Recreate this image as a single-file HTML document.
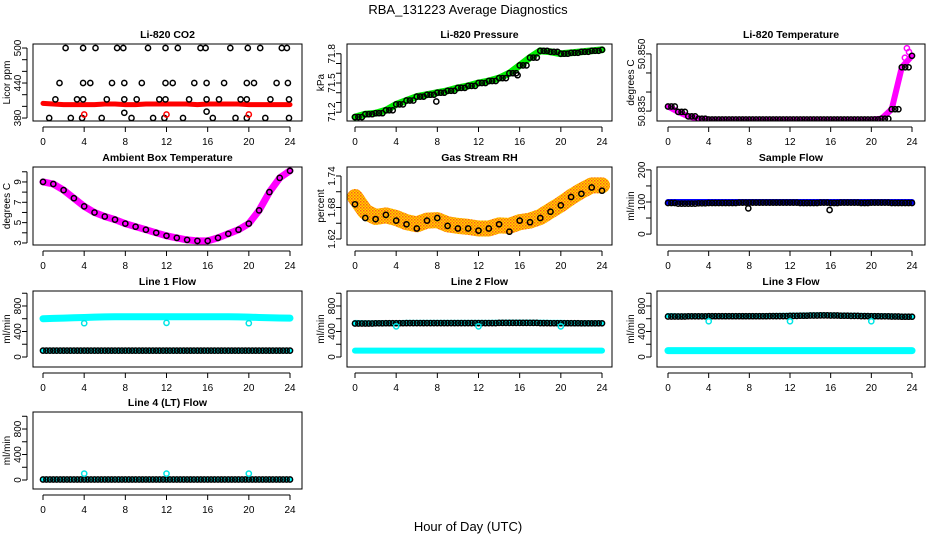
<!DOCTYPE html>
<html><head><meta charset="utf-8">
<style>
html,body{margin:0;padding:0;background:#fff;}
svg{display:block;font-family:"Liberation Sans","DejaVu Sans",sans-serif;}
</style></head>
<body>
<svg id="chart" width="936" height="540" viewBox="0 0 936 540" xmlns="http://www.w3.org/2000/svg">
<defs>
<pattern id="rhpat" width="3" height="3" patternUnits="userSpaceOnUse">
<rect width="3" height="3" fill="#ffd400"/>
<rect x="0" y="0" width="1.5" height="1.5" fill="#ff5a1a"/>
<rect x="1.5" y="1.5" width="1.5" height="1.5" fill="#ff8a00"/>
</pattern>
</defs>
<text x="468" y="14" text-anchor="middle" font-size="13">RBA_131223  Average Diagnostics</text>
<text x="468" y="531" text-anchor="middle" font-size="13">Hour of Day (UTC)</text>
</svg>
<script>
// ---- data ----
const hours = [0,1,2,3,4,5,6,7,8,9,10,11,12,13,14,15,16,17,18,19,20,21,22,23,24];
const xTickLabels = [0,4,8,12,16,20,24];

const co2Band = [405,404,403,403,403,403,404,404,403,403,404,404,404,404,404,403,404,404,404,404,403,403,403,403,403];
const co2Hrs = [2.2,3.9,5.1,7.2,7.8,10.2,11.9,13.1,15.3,15.8,18.2,19.9,21.1,23.2,23.7,
  1.6,3.9,4.6,6.7,7.9,9.6,11.9,12.6,14.7,15.9,17.6,19.8,20.5,22.7,23.8,
  1.2,3.3,3.9,6.2,7.9,9.1,11.3,11.9,14.2,15.9,17.1,19.2,19.8,22.1,23.9,
  0.6,2.7,3.8,5.7,8.6,10.7,11.8,13.6,16.5,18.7,19.8,21.6,23.9,7.9,15.9];
const co2Vals = [500,500,500,500,500,500,500,500,500,500,500,500,500,500,500,
  440,440,440,440,440,440,440,440,440,440,440,440,440,440,440,
  412,412,412,412,412,412,412,412,412,412,412,412,412,412,412,
  380,380,380,380,380,380,380,380,380,380,380,380,380,389,391];
const co2RedHrs = [4,12,20];
const co2RedVals = [386,386,386];

const presVals = [71.15,71.18,71.19,71.22,71.28,71.32,71.36,71.38,71.40,71.42,71.45,71.47,71.50,71.52,71.55,71.60,71.68,71.76,71.83,71.82,71.80,71.81,71.82,71.83,71.84];
const presOutHrs = [7.9,15.8];
const presOutVals = [71.31,71.58];

const tempVals = [50.8362,50.8348,50.8336,50.8330,50.8328,50.8328,50.8328,50.8328,50.8328,50.8328,50.8328,50.8328,50.8328,50.8328,50.8328,50.8328,50.8328,50.8328,50.8328,50.8328,50.8328,50.8330,50.8355,50.8465,50.8495];
const tempEndHrs = [23.3,23.5,23.7];
const tempEndVals = [50.8490,50.8515,50.8505];

const ambVals = [9.0,8.8,8.2,7.4,6.6,6.0,5.6,5.3,4.9,4.6,4.3,4.0,3.7,3.5,3.3,3.2,3.2,3.5,3.9,4.3,4.9,6.2,8.0,9.4,10.1];

const rhBand = [1.700,1.672,1.662,1.665,1.660,1.652,1.648,1.655,1.656,1.648,1.645,1.643,1.640,1.640,1.646,1.645,1.652,1.655,1.662,1.674,1.686,1.700,1.712,1.722,1.722];
const rhVals = [1.686,1.660,1.658,1.666,1.655,1.648,1.640,1.655,1.660,1.645,1.640,1.640,1.636,1.640,1.648,1.634,1.655,1.652,1.660,1.672,1.684,1.700,1.706,1.718,1.712];

const sampleBand = [100,100,100,100,100,100,100,100,100,100,100,100,100,100,100,100,100,100,100,100,100,100,100,100,100];
const sampleVals = [97,95,95,96,97,97,97,98,98,98,98,98,98,97,97,98,97,98,98,97,98,98,97,97,97];
const sampleOutHrs = [7.9,15.9];
const sampleOutVals = [80,75];

const line1Cyan = [600,605,610,615,620,625,628,630,632,632,632,632,632,632,632,632,630,630,630,628,625,620,615,612,610];
const line1Low = [100,100,100,100,100,100,100,100,100,100,100,100,100,100,100,100,100,100,100,100,100,100,100,100,100];
const line1Black = [100,100,100,100,100,100,100,100,100,100,100,100,100,100,100,100,100,100,100,100,100,100,100,100,100];
const line1OutVals = [530,535,530];

const line2Cyan = [535,530,530,532,532,535,535,535,535,535,535,535,535,535,538,540,540,540,538,535,535,532,530,530,530];
const line2Black = [525,525,528,530,530,532,532,532,532,532,532,532,532,532,535,535,535,535,532,530,530,530,528,528,528];
const line2Low = [100,100,100,100,100,100,100,100,100,100,100,100,100,100,100,100,100,100,100,100,100,100,100,100,100];
const line2OutVals = [480,480,480];

const line3Cyan = [650,645,645,645,645,645,645,648,648,648,650,652,655,658,660,662,660,658,655,652,650,648,645,642,640];
const line3Black = [635,635,638,638,640,640,640,640,640,640,642,642,645,648,650,652,650,648,645,642,640,638,635,632,632];
const line3Low = [100,100,100,100,100,100,100,100,100,100,100,100,100,100,100,100,100,100,100,100,100,100,100,100,100];
const line3OutVals = [560,560,560];

const line4Cyan = [0,0,0,0,0,0,0,0,0,0,0,0,0,0,0,0,0,0,0,0,0,0,0,0,0];
const line4Black = [8,8,8,8,8,8,8,8,8,8,8,8,8,8,8,8,8,8,8,8,8,8,8,8,8];
const line4OutVals = [100,100,100];
const spikeHrs = [4,12,20];

// ---- layout ----
const NS = 'http://www.w3.org/2000/svg';
const svg = document.getElementById('chart');
const cols = [{l:33,r:302,x0:43,x24:290},{l:347,r:612,x0:355,x24:602},{l:657,r:925,x0:668,x24:912}];
const rows = [{t:44,b:121},{t:167,b:245},{t:291,b:367},{t:412,b:489}];

function mk(tag, attrs, parent){
  const e = document.createElementNS(NS, tag);
  for (const k in attrs) e.setAttribute(k, attrs[k]);
  (parent||svg).appendChild(e);
  return e;
}

function panel(p){
  const c = cols[p.col], r = rows[p.row];
  const g = mk('g', {});
  
  
  const xs = h => c.x0 + (c.x24 - c.x0) * h / 24;
  const ys = v => r.b - (v - p.ymin) / (p.ymax - p.ymin) * (r.b - r.t);
  const cid = 'clip' + p.col + p.row;
  const cp = mk('clipPath', {id: cid}, g);
  mk('rect', {x:c.l, y:r.t, width:c.r-c.l, height:r.b-r.t}, cp);
  const data = mk('g', {'clip-path':'url(#'+cid+')'}, g);
  const band = (hs, vs, color, w, nm) => {
    const pts = hs.map((h,i)=>xs(h).toFixed(1)+','+ys(vs[i]).toFixed(1)).join(' ');
    const pl = mk('polyline', {points:pts, fill:'none', stroke:color, 'stroke-width':w, 'stroke-linejoin':'round', 'stroke-linecap':'round'}, data);
    
    
  };
  const pts = (hs, vs, color, nm, dense) => {
    hs.forEach((h,i)=>{
      const subs = dense ? [0,1/3,2/3] : [0];
      subs.forEach(s=>{
        if (h + s > 24) return;
        const ci = mk('circle', {cx:xs(h+s).toFixed(1), cy:ys(vs[i]).toFixed(1), r:2.6, fill:'none', stroke:color, 'stroke-width':1.5}, data);
        
        
      });
    });
  };
  p.draw(band, pts);
  const bx = mk('rect', {x:c.l, y:r.t, width:c.r-c.l, height:r.b-r.t, fill:'none', stroke:'#000', 'stroke-width':1}, g);
  
  
  const tt = mk('text', {x:(c.l+c.r)/2, y:r.t-6, 'text-anchor':'middle', 'font-size':10.5, 'font-weight':'bold'}, g);
  tt.textContent = p.title;
  
  
  const ay = r.b + 6;
  mk('line', {x1:c.x0, x2:c.x24, y1:ay, y2:ay, stroke:'#000'}, g);
  xTickLabels.forEach(v=>{
    mk('line', {x1:xs(v), x2:xs(v), y1:ay, y2:ay+5, stroke:'#000'}, g);
    const t = mk('text', {x:xs(v), y:ay+18, 'text-anchor':'middle', 'font-size':10}, g);
    t.textContent = v;
    
    
  });
  const ax = c.l - 6;
  mk('line', {x1:ax, x2:ax, y1:ys(p.yticks[0]), y2:ys(p.yticks[p.yticks.length-1]), stroke:'#000'}, g);
  p.yticks.forEach(v=>mk('line', {x1:ax-5, x2:ax, y1:ys(v), y2:ys(v), stroke:'#000'}, g));
  p.ylabels.forEach(v=>{
    const t = mk('text', {x:0, y:0, 'text-anchor':'middle', 'font-size':10, transform:'translate('+(c.l-12)+','+ys(v)+') rotate(-90)'}, g);
    t.textContent = p.fmt ? p.fmt(v) : v;
    
    
  });
  const yl = mk('text', {x:0, y:0, 'text-anchor':'middle', 'font-size':10, transform:'translate('+(c.l-23)+','+((r.t+r.b)/2)+') rotate(-90)'}, g);
  yl.textContent = p.ylabel;
  
  
}

const flowTicks = [0,200,400,600,800,1000];
const flowLabels = [0,400,800];

panel({name:'co2-panel', col:0,row:0,title:'Li-820 CO2',ylabel:'Licor ppm',ymin:374.9,ymax:506.9,
  yticks:[380,400,420,440,460,480,500], ylabels:[380,440,500],
  draw:(band,pts)=>{ band(hours,co2Band,'#ff0000',5,'co2-raw-band'); pts(co2Hrs,co2Vals,'#000','co2-average-point',false); pts(co2RedHrs,co2RedVals,'#ff0000','co2-red-point',false); }});
panel({name:'pressure-panel', col:1,row:0,title:'Li-820 Pressure',ylabel:'kPa',ymin:71.11,ymax:71.90,
  yticks:[71.2,71.3,71.4,71.5,71.6,71.7,71.8], ylabels:[71.2,71.5,71.8], fmt:v=>v.toFixed(1),
  draw:(band,pts)=>{ band(hours,presVals,'#00ee00',7,'pressure-raw-band'); pts(hours,presVals,'#000','pressure-point',true); pts(presOutHrs,presOutVals,'#000','pressure-outlier',false); }});
panel({name:'temperature-panel', col:2,row:0,title:'Li-820 Temperature',ylabel:'degrees C',ymin:50.8324,ymax:50.8526,
  yticks:[50.835,50.840,50.845,50.850], ylabels:[50.835,50.850], fmt:v=>v.toFixed(3),
  draw:(band,pts)=>{ band(hours,tempVals,'#ff00ff',6,'temperature-raw-band'); pts(tempEndHrs,tempEndVals,'#ff00ff','temperature-raw-point',false); pts(hours,tempVals,'#000','temperature-point',true); }});
panel({name:'ambient-panel', col:0,row:1,title:'Ambient Box Temperature',ylabel:'degrees C',ymin:2.8,ymax:10.47,
  yticks:[3,4,5,6,7,8,9,10], ylabels:[3,5,7,9],
  draw:(band,pts)=>{ band(hours,ambVals,'#ff00ff',7,'ambient-raw-band'); pts(hours,ambVals,'#000','ambient-point',false); }});
panel({name:'rh-panel', col:1,row:1,title:'Gas Stream RH',ylabel:'percent',ymin:1.6086,ymax:1.7571,
  yticks:[1.62,1.65,1.68,1.71,1.74], ylabels:[1.62,1.68,1.74], fmt:v=>v.toFixed(2),
  draw:(band,pts)=>{ band(hours,rhBand,'url(#rhpat)',16,'rh-raw-band'); pts(hours,rhVals,'#000','rh-point',false); }});
panel({name:'sample-flow-panel', col:2,row:1,title:'Sample Flow',ylabel:'ml/min',ymin:-34,ymax:209,
  yticks:[0,50,100,150,200], ylabels:[0,100,200],
  draw:(band,pts)=>{ band(hours,sampleBand,'#0000ff',6,'sample-raw-band'); pts(hours,sampleVals,'#000','sample-point',true); pts(sampleOutHrs,sampleOutVals,'#000','sample-outlier',false); }});
panel({name:'line1-panel', col:0,row:2,title:'Line 1 Flow',ylabel:'ml/min',ymin:-157,ymax:1035,
  yticks:flowTicks, ylabels:flowLabels,
  draw:(band,pts)=>{ band(hours,line1Cyan,'#00ffff',7,'line1-raw-band'); band(hours,line1Low,'#00ffff',6,'line1-low-band'); pts(hours,line1Black,'#000','line1-point',true); pts(spikeHrs,line1OutVals,'#00e5e5','line1-outlier',false); }});
panel({name:'line2-panel', col:1,row:2,title:'Line 2 Flow',ylabel:'ml/min',ymin:-157,ymax:1035,
  yticks:flowTicks, ylabels:flowLabels,
  draw:(band,pts)=>{ band(hours,line2Cyan,'#00ffff',6,'line2-raw-band'); band(hours,line2Low,'#00ffff',6,'line2-low-band'); pts(hours,line2Black,'#000','line2-point',true); pts(spikeHrs,line2OutVals,'#00e5e5','line2-outlier',false); }});
panel({name:'line3-panel', col:2,row:2,title:'Line 3 Flow',ylabel:'ml/min',ymin:-157,ymax:1035,
  yticks:flowTicks, ylabels:flowLabels,
  draw:(band,pts)=>{ band(hours,line3Cyan,'#00ffff',5,'line3-raw-band'); band(hours,line3Low,'#00ffff',7,'line3-low-band'); pts(hours,line3Black,'#000','line3-point',true); pts(spikeHrs,line3OutVals,'#00e5e5','line3-outlier',false); }});
panel({name:'line4-panel', col:0,row:3,title:'Line 4 (LT) Flow',ylabel:'ml/min',ymin:-141,ymax:1067,
  yticks:flowTicks, ylabels:flowLabels,
  draw:(band,pts)=>{ band(hours,line4Cyan,'#00ffff',5,'line4-raw-band'); pts(hours,line4Black,'#000','line4-point',true); pts(spikeHrs,line4OutVals,'#00e5e5','line4-outlier',false); }});
</script>
</body></html>
